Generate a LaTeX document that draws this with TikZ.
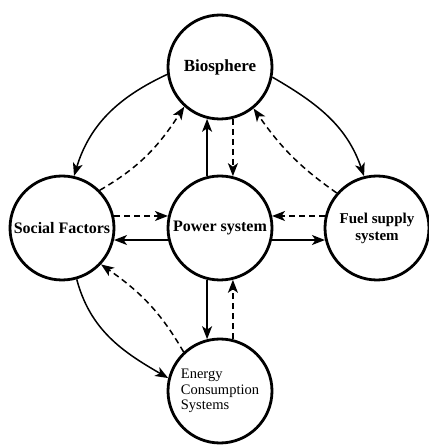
\documentclass[tikz,border=0pt]{standalone}
\usepackage{fontspec}
\setmainfont{Liberation Serif}
\usetikzlibrary{arrows.meta}

\tikzset{
  sys/.style={circle, draw, line width=2.8pt, minimum size=104pt, inner sep=0pt,
    font=\bfseries\fontsize{16}{18}\selectfont},
  flow/.style={line width=1.5pt, -{Stealth[length=13pt,width=10pt,inset=3.5pt]}},
  info/.style={flow, dash pattern=on 6pt off 4pt},
}

\begin{document}
\begin{tikzpicture}[x=1pt,y=1pt]

	\useasboundingbox (0,0) rectangle (429,448);

	% the five systems
	\node[sys] (bio) at (220,381) {\fontsize{17}{19}\selectfont Biosphere};
	\node[sys] (soc) at (62,220) {Social Factors};
	\node[sys] (pow) at (220,220) {Power system};
	\node[sys, align=center, font=\bfseries\fontsize{15}{17}\selectfont] (fuel) at (377,220) {Fuel supply\\ system};
	\node[sys, align=left, font=\fontsize{14.5}{15.5}\selectfont] (ene) at (220,57) {Energy\\ Consumption\\ Systems};

	% biosphere links
	\draw[flow] (bio.188) to[out=205, in=73] (soc.77);
	\draw[info] (soc.45) to[out=30, in=237] (bio.228);
	\draw[flow] (bio.349) to[out=-30, in=109] (fuel.104);
	\draw[info] (fuel.139) to[out=145, in=305] (bio.309);
	\draw[flow] (pow.104) -- (bio.256);
	\draw[info] (bio.284) -- (pow.76);

	% power system links
	\draw[info] (soc.13) -- (pow.167);
	\draw[flow] (pow.193) -- (soc.347);
	\draw[info] (fuel.167) -- (pow.13);
	\draw[flow] (pow.347) -- (fuel.193);
	\draw[flow] (pow.256) -- (ene.104);
	\draw[info] (ene.76) -- (pow.284);

	% social factors and consumption
	\draw[flow] (soc.286) to[out=-75, in=150] (ene.166);
	\draw[info] (ene.133) to[out=120, in=-35] (soc.317);

\end{tikzpicture}
\end{document}
